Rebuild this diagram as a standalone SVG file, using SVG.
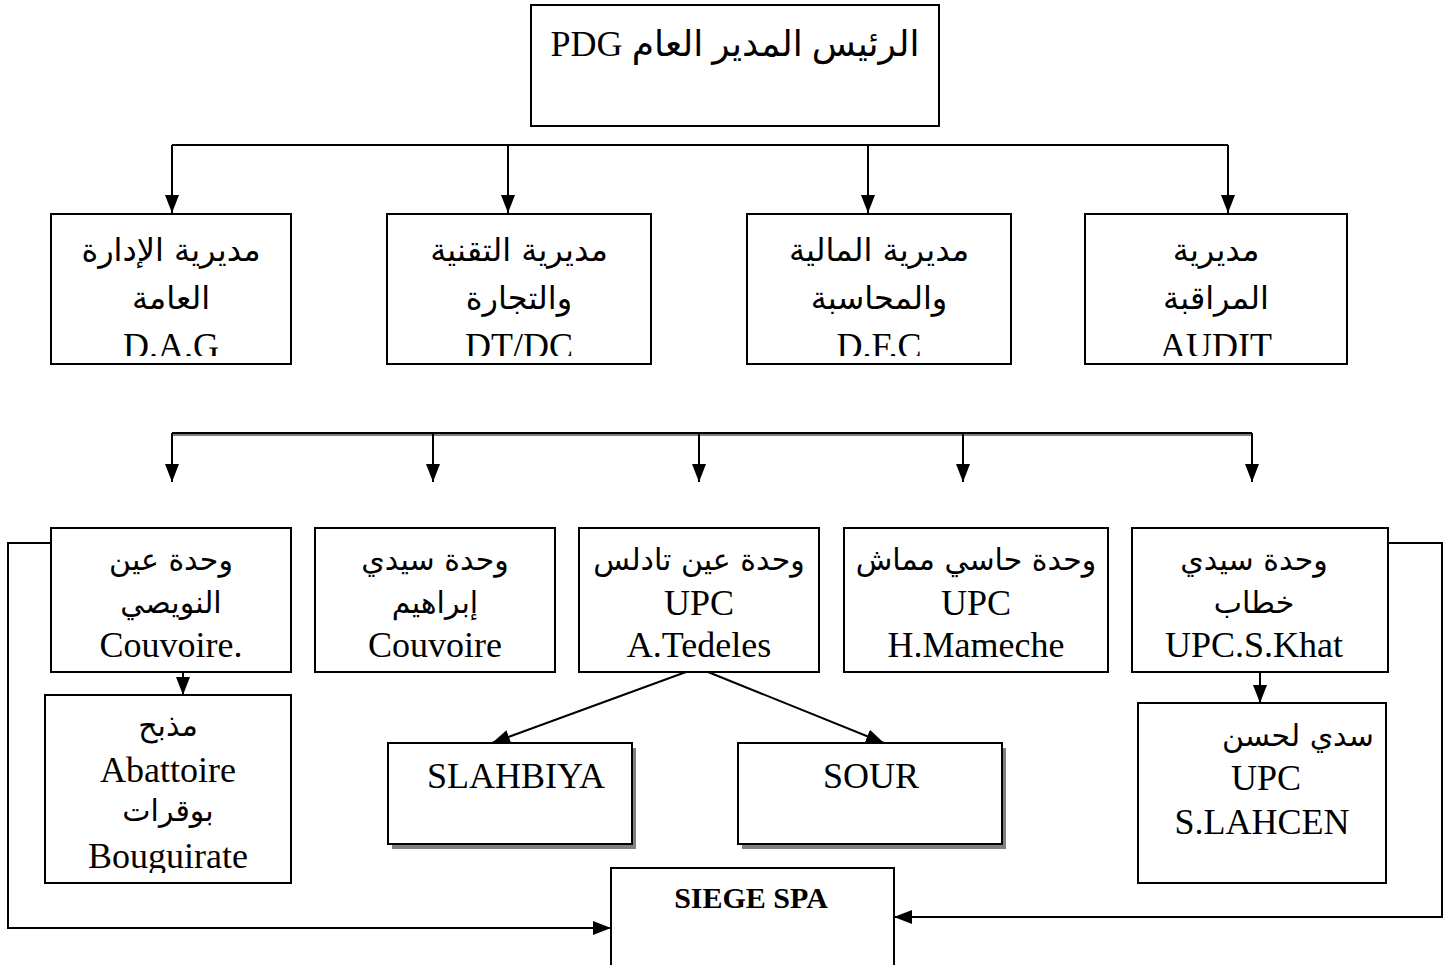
<svg xmlns="http://www.w3.org/2000/svg" width="1449" height="965" viewBox="0 0 1449 965">
<style>
.box{fill:#fff;stroke:#000;stroke-width:2}
.shadow{fill:#808080;stroke:none}
.t{font-family:"Liberation Serif","DejaVu Sans",serif;font-size:36px;text-anchor:middle;fill:#000}
.ar{font-family:"DejaVu Sans","Liberation Serif",sans-serif;font-size:32px}
.ar3{font-size:30px}
.b{font-weight:bold;font-size:30px}
.conn{stroke:#000;stroke-width:2;fill:none}
.arr{marker-end:url(#ah)}
.gray{stroke:#808080;stroke-width:2;fill:none}
</style>
<defs>
<marker id="ah" viewBox="0 0 18 14" refX="18" refY="7" markerWidth="18" markerHeight="14" markerUnits="userSpaceOnUse" orient="auto">
<path d="M0,0 L18,7 L0,14 z" fill="#000"/>
</marker>
<clipPath id="clip2"><rect x="0" y="0" width="1449" height="356"/></clipPath>
<clipPath id="clipAb"><rect x="0" y="0" width="1449" height="873"/></clipPath>
</defs>

<g id="connectors">
<path class="conn" d="M172,145 H1228"/>
<path class="conn arr" d="M172,145 V213"/>
<path class="conn arr" d="M508,145 V213"/>
<path class="conn arr" d="M868,145 V213"/>
<path class="conn arr" d="M1228,145 V213"/>
<path class="gray" d="M172,435 H1252"/>
<path class="conn" d="M172,433 H1252"/>
<path class="conn arr" d="M172,433 V482"/>
<path class="conn arr" d="M433,433 V482"/>
<path class="conn arr" d="M699,433 V482"/>
<path class="conn arr" d="M963,433 V482"/>
<path class="conn arr" d="M1252,433 V482"/>
<path class="conn arr" d="M183,672 V695"/>
<path class="conn arr" d="M1260,672 V703"/>
<path class="conn arr" d="M686,672 L492,743"/>
<path class="conn arr" d="M708,672 L884,743"/>
<path class="conn arr" d="M51,543 H8 V928 H611"/>
<path class="conn arr" d="M1388,543 H1442 V917 H894"/>
</g>

<g id="pdg">
<rect class="box" x="531" y="5" width="408" height="121"/>
<text class="t" x="735" y="56" direction="rtl">الرئيس المدير العام PDG</text>
</g>

<g id="dag">
<rect class="box" x="51" y="214" width="240" height="150"/>
<g clip-path="url(#clip2)">
<text class="t ar" x="171" y="261">مديرية الإدارة</text>
<text class="t ar" x="171" y="309">العامة</text>
<text class="t" x="171" y="358">D.A.G</text>
</g>
</g>

<g id="dtdc">
<rect class="box" x="387" y="214" width="264" height="150"/>
<g clip-path="url(#clip2)">
<text class="t ar" x="519" y="261">مديرية التقنية</text>
<text class="t ar" x="519" y="309">والتجارة</text>
<text class="t" x="519" y="358">DT/DC</text>
</g>
</g>

<g id="dfc">
<rect class="box" x="747" y="214" width="264" height="150"/>
<g clip-path="url(#clip2)">
<text class="t ar" x="879" y="261">مديرية المالية</text>
<text class="t ar" x="879" y="309">والمحاسبة</text>
<text class="t" x="879" y="358">D.F.C</text>
</g>
</g>

<g id="audit">
<rect class="box" x="1085" y="214" width="262" height="150"/>
<g clip-path="url(#clip2)">
<text class="t ar" x="1216" y="261">مديرية</text>
<text class="t ar" x="1216" y="309">المراقبة</text>
<text class="t" x="1216" y="358">AUDIT</text>
</g>
</g>

<g id="ain-nouissy">
<rect class="box" x="51" y="528" width="240" height="144"/>
<text class="t ar ar3" x="171" y="570">وحدة عين</text>
<text class="t ar ar3" x="171" y="613">النويصي</text>
<text class="t" x="171" y="657">Couvoire.</text>
</g>

<g id="sidi-brahim">
<rect class="box" x="315" y="528" width="240" height="144"/>
<text class="t ar ar3" x="435" y="570">وحدة سيدي</text>
<text class="t ar ar3" x="435" y="613">إبراهيم</text>
<text class="t" x="435" y="657">Couvoire</text>
</g>

<g id="ain-tedeles">
<rect class="box" x="579" y="528" width="240" height="144"/>
<text class="t ar ar3" x="699" y="570">وحدة عين تادلس</text>
<text class="t" x="699" y="615">UPC</text>
<text class="t" x="699" y="657">A.Tedeles</text>
</g>

<g id="hassi-mameche">
<rect class="box" x="844" y="528" width="264" height="144"/>
<text class="t ar ar3" x="976" y="570">وحدة حاسي مماش</text>
<text class="t" x="976" y="615">UPC</text>
<text class="t" x="976" y="657">H.Mameche</text>
</g>

<g id="sidi-khettab">
<rect class="box" x="1132" y="528" width="256" height="144"/>
<text class="t ar ar3" x="1254" y="570">وحدة سيدي</text>
<text class="t ar ar3" x="1254" y="613">خطاب</text>
<text class="t" x="1254" y="657">UPC.S.Khat</text>
</g>

<g id="abattoire">
<rect class="box" x="45" y="695" width="246" height="188"/>
<g clip-path="url(#clipAb)">
<text class="t ar ar3" x="168" y="736">مذبح</text>
<text class="t" x="168" y="782">Abattoire</text>
<text class="t ar ar3" x="168" y="821">بوقرات</text>
<text class="t" x="168" y="868">Bouguirate</text>
</g>
</g>

<g id="slahbiya">
<rect class="shadow" x="392" y="748" width="244" height="101"/>
<rect class="box" x="388" y="743" width="244" height="101"/>
<text class="t" x="516" y="788">SLAHBIYA</text>
</g>

<g id="sour">
<rect class="shadow" x="742" y="748" width="264" height="101"/>
<rect class="box" x="738" y="743" width="264" height="101"/>
<text class="t" x="871" y="788">SOUR</text>
</g>

<g id="sidi-lahcen">
<rect class="box" x="1138" y="703" width="248" height="180"/>
<text class="t ar ar3" x="1298" y="746">سدي لحسن</text>
<text class="t" x="1266" y="790">UPC</text>
<text class="t" x="1262" y="834">S.LAHCEN</text>
</g>

<g id="siege">
<rect class="box" x="611" y="868" width="283" height="110"/>
<text class="t b" x="751" y="908">SIEGE SPA</text>
</g>
</svg>
